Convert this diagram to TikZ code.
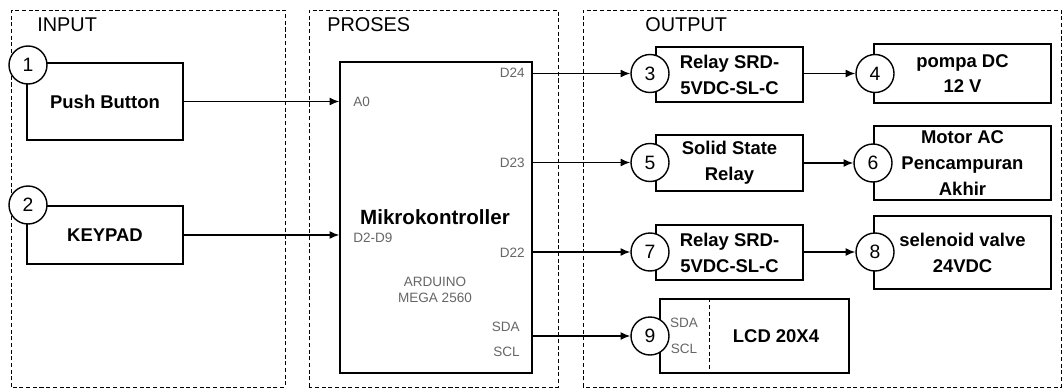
\documentclass[tikz,border=0pt]{standalone}
\usepackage{fontspec}
\setmainfont{Liberation Sans}
\usetikzlibrary{arrows.meta,calc}

\begin{document}
\begin{tikzpicture}[
  >={Latex[length=5.5pt,width=4.5pt]},
  every node/.style={font=\fontsize{10.5}{14.7}\selectfont},
  grp/.style={draw, line width=0.55pt, dash pattern=on 2.3pt off 1.5pt},
  head/.style={anchor=west, inner sep=0pt, font=\fontsize{11.3}{13}\selectfont},
  blk/.style={rectangle, draw, fill=white, line width=0.8pt, align=center, inner sep=0pt,
              font=\fontsize{10.5}{14.7}\selectfont\bfseries},
  num/.style={circle, draw, fill=white, line width=0.8pt, minimum size=7.6mm, inner sep=0pt,
              font=\fontsize{11}{13}\selectfont},
  pin/.style={inner sep=0pt, text=black!60, font=\fontsize{7.7}{9}\selectfont},
  edge/.style={->, line width=0.8pt}
]
\useasboundingbox (0,0) rectangle (21.24,7.78);

% --- groups ---
\draw[grp] (0.234,0.04) rectangle (5.70,7.58);
\draw[grp] (6.18,0.04) rectangle (11.16,7.58);
\draw[grp] (11.66,0.04) rectangle (21.22,7.58);
\node[head] (hin)  at (0.74,7.28) {INPUT};
\node[head] (hpr)  at (6.54,7.28) {PROSES};
\node[head] (hout) at (12.9,7.28) {OUTPUT};

% --- input ---
\node[blk, minimum width=3.12cm, minimum height=1.54cm] (pb) at (2.10,5.75) {Push Button};
\node[num] (n1) at (0.56,6.48) {1};
\node[blk, minimum width=3.12cm, minimum height=1.16cm] (kp) at (2.10,3.08) {KEYPAD};
\node[num] (n2) at (0.56,3.68) {2};

% --- proses ---
\node[blk, minimum width=3.84cm, minimum height=6.22cm] (mk) at (8.72,3.43) {};
\node[font=\fontsize{11.7}{14}\selectfont\bfseries] (mkt) at (8.70,3.44) {Mikrokontroller};
\node[pin, align=center] (ard) at (8.70,1.98) {ARDUINO\\MEGA 2560};
\node[pin, anchor=west] (pa0)  at (7.06,5.74) {A0};
\node[pin, anchor=west] (pd2)  at (7.06,3.02) {D2-D9};
\node[pin, anchor=east] (pd24) at (10.50,6.32) {D24};
\node[pin, anchor=east] (pd23) at (10.50,4.52) {D23};
\node[pin, anchor=east] (pd22) at (10.50,2.72) {D22};
\node[pin, anchor=east] (psda) at (10.40,1.24) {SDA};
\node[pin, anchor=east] (pscl) at (10.40,0.74) {SCL};

% --- output ---
\node[blk, minimum width=2.94cm, minimum height=1.10cm] (r1)  at (14.59,6.29) {Relay SRD-\\5VDC-SL-C};
\node[blk, minimum width=2.94cm, minimum height=1.12cm] (ssr) at (14.59,4.52) {Solid State\\Relay};
\node[blk, minimum width=2.94cm, minimum height=1.10cm] (r2)  at (14.59,2.73) {Relay SRD-\\5VDC-SL-C};
\node[num] (n3) at (13.0,6.31) {3};
\node[num] (n5) at (13.0,4.53) {5};
\node[num] (n7) at (13.0,2.74) {7};

\node[blk, minimum width=3.54cm, minimum height=1.18cm] (pump)  at (19.25,6.31) {pompa DC\\12 V};
\node[blk, minimum width=3.54cm, minimum height=1.48cm] (motor) at (19.25,4.52) {Motor AC\\Pencampuran\\Akhir};
\node[blk, minimum width=3.54cm, minimum height=1.46cm] (valve) at (19.25,2.73) {selenoid valve\\24VDC};
\node[num] (n4) at (17.50,6.31) {4};
\node[num] (n6) at (17.46,4.52) {6};
\node[num] (n8) at (17.50,2.74) {8};

\node[blk, minimum width=3.78cm, minimum height=1.48cm] (lcd) at (15.09,1.06) {};
\draw[grp, line width=0.8pt] ($(lcd.north west)+(1.0,0)$) -- ($(lcd.south west)+(1.0,0)$);
\node[pin] (lsda) at (13.68,1.32) {SDA};
\node[pin] (lscl) at (13.68,0.80) {SCL};
\node[font=\fontsize{10.5}{14.7}\selectfont\bfseries] (lcdt) at (15.52,1.06) {LCD 20X4};
\node[num] (n9) at (13.0,1.06) {9};

% --- edges ---
\draw[edge] (pb.east) -- (pb.east -| mk.west);
\draw[edge] (kp.east) -- (kp.east -| mk.west);
\draw[edge] (mk.east |- n3) -- (n3);
\draw[edge] (mk.east |- n5) -- (n5);
\draw[edge] (mk.east |- n7) -- (n7);
\draw[edge] (mk.east |- n9) -- (n9);
\draw[edge] (r1.east |- n4) -- (n4);
\draw[edge] (ssr.east |- n6) -- (n6);
\draw[edge] (r2.east |- n8) -- (n8);

\end{tikzpicture}
\end{document}
